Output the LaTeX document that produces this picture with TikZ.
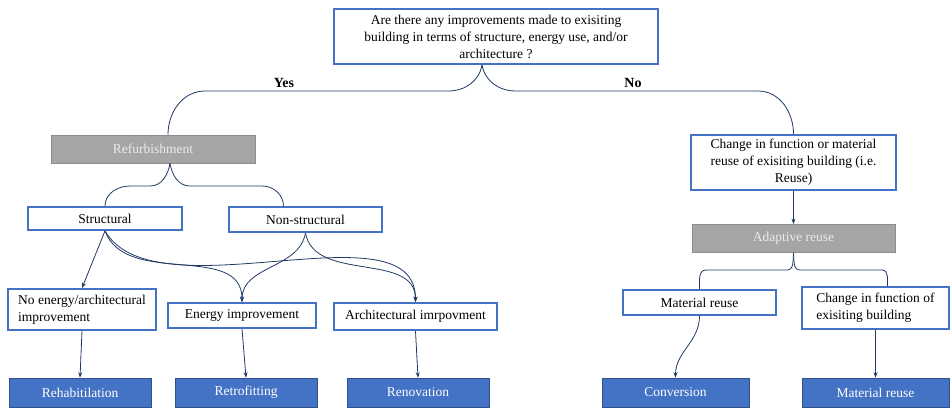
\documentclass[tikz,border=0pt]{standalone}
\usepackage{fontspec}
\setmainfont{Liberation Serif}
\usetikzlibrary{arrows.meta}
\definecolor{boxblue}{HTML}{4472C4}
\definecolor{boxedge}{HTML}{2F528F}
\definecolor{greyfill}{HTML}{A5A5A5}
\definecolor{greyedge}{HTML}{8C8C8C}
\definecolor{linknavy}{HTML}{1F3864}

\begin{document}
\begin{tikzpicture}[
x=1pt, y=-1pt,
font=\rmfamily\fontsize{13.5}{17}\selectfont,
qbox/.style={
	draw=boxblue, line width=1.8pt,
	fill=white, inner sep=3pt, text=black
},
greybox/.style={
	draw=greyedge, line width=0.8pt, fill=greyfill,
	text=white!92!black, minimum width=204pt, minimum height=28pt
},
endbox/.style={
	draw=boxedge, line width=0.6pt, fill=boxblue,
	text=white, minimum width=142pt, minimum height=29pt
},
link/.style={draw=linknavy, line width=0.8pt},
arr/.style={link, -{Stealth[length=5.5pt,width=4pt]}},
answer/.style={font=\rmfamily\bfseries\fontsize{14}{14}\selectfont}
]
\useasboundingbox (0,0) rectangle (950,407);
% question
\node[qbox, minimum width=324pt, minimum height=55pt, align=center] (q) at (496,36.5)
	{Are there any improvements made to exisiting\\building in terms of structure, energy use, and/or\\architecture ?};
\node[answer] (yes) at (284,83) {Yes};
\node[answer] (no) at (633,83) {No};
% left branch
\node[greybox] (refurb) at (153,149) {Refurbishment};
\node[qbox, minimum width=154pt, minimum height=23pt] (struct) at (105,218.5) {Structural};
\node[qbox, minimum width=153pt, minimum height=25pt] (nonstruct) at (305.5,219.5) {Non-structural};
\node[qbox, minimum width=148pt, minimum height=41pt, align=left] (noenergy) at (82,309.5)
	{No energy/architectural\\improvement};
\node[qbox, minimum width=148pt, minimum height=25pt] (energy) at (242,315.5) {Energy improvement};
\node[qbox, minimum width=163pt, minimum height=27pt] (arch) at (415.5,316.5) {Architectural imrpovment};
\node[endbox] (rehab) at (80,392.5) {Rehabitilation};
\node[endbox] (retro) at (246,392.5) {Retrofitting};
\node[endbox] (reno) at (418,392.5) {Renovation};
% right branch
\node[qbox, minimum width=205pt, minimum height=55pt, align=center] (change) at (793.5,162.5)
	{Change in function or material\\reuse of exisiting building (i.e.\\Reuse)};
\node[greybox, minimum width=203pt] (adaptive) at (793.5,238.5) {Adaptive reuse};
\node[qbox, minimum width=153pt, minimum height=25pt] (matreuse) at (699.5,302.5) {Material reuse};
\node[qbox, minimum width=147pt, minimum height=42pt, align=left] (changefn) at (875.5,308)
	{Change in function of\\exisiting building};
\node[endbox, minimum width=147pt] (conversion) at (675.5,392.5) {Conversion};
\node[endbox, minimum width=147pt] (matreusetwo) at (875.5,392.5) {Material reuse};
% braces
\draw[link] ([xshift=-14pt]q.south) to[out=-100,in=0] (448,91) -- (205,91)
	to[out=180,in=90] ([xshift=15pt]refurb.north);
\draw[link] ([xshift=-14pt]q.south) to[out=-80,in=180] (516,91) -- (758,91)
	to[out=0,in=90] (change.north);
\draw[link] ([xshift=17pt]refurb.south) to[out=-100,in=0] (150,186) -- (130,186)
	to[out=180,in=90] (struct.north);
\draw[link] ([xshift=17pt]refurb.south) to[out=-80,in=180] (190,186) -- (262,186)
	to[out=0,in=90] ([xshift=-22pt]nonstruct.north);
\draw[link] (adaptive.south) to[out=-95,in=0] (787,270) -- (706,270)
	to[out=180,in=90] (matreuse.north);
\draw[link] (adaptive.south) to[out=-85,in=180] (800,270) -- (882,270)
	to[out=0,in=90] ([xshift=12pt]changefn.north);
% arrows
\draw[arr] (struct.south) -- (noenergy.north);
\draw[arr] (struct.south) to[out=-70,in=90] (energy.north);
\draw[arr] (struct.south) to[out=-60,in=90,looseness=0.8] (arch.north);
\draw[arr] (nonstruct.south) to[out=-100,in=90] (energy.north);
\draw[arr] (nonstruct.south) to[out=-80,in=90] (arch.north);
\draw[arr] (matreuse.south) to[out=-90,in=90] (conversion.north);
\foreach \a/\b in {noenergy/rehab,energy/retro,arch/reno,change/adaptive,changefn/matreusetwo}
{
	\draw[arr] (\a.south) -- (\b.north);
}
\end{tikzpicture}
\end{document}
